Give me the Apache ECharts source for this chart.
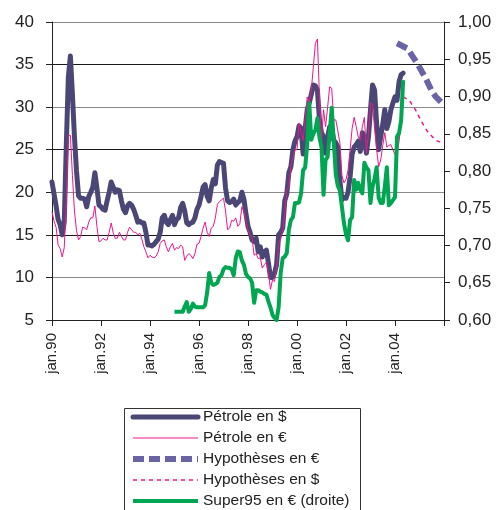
<!DOCTYPE html>
<html>
<head>
<meta charset="utf-8">
<script src="https://cdn.jsdelivr.net/npm/echarts@6/dist/echarts.min.js"></script>
<style>
html,body{margin:0;padding:0;background:#fff;}
#chart{width:496px;height:510px;}
</style>
</head>
<body>
<div id="chart"></div>
<script>
// Monthly categories jan.90 ... jan.06
const monthNames = ['jan','fév','mar','avr','mai','juin','juil','août','sep','oct','nov','déc'];
const years = [1990,1991,1992,1993,1994,1995,1996,1997,1998,1999,2000,2001,2002,2003,2004,2005];
const categories = [];
years.forEach(y => monthNames.forEach(m => categories.push(m + '.' + String(y).slice(2))));
categories.push('jan.06');

const seriesNames = ['Pétrole en $', 'Pétrole en €', 'Hypothèses en €', 'Hypothèses en $', 'Super95 en € (droite)'];

// Pétrole en $ (left axis), from jan.90 (index 0)
const petroleUsdStart = 0;
const petroleUsd = [
  21.2, 19.8, 18.4, 16.8, 16.2, 15.0, 16.5, 25.5, 33.5, 36.0, 31.5, 26.5,
  22.5, 19.6, 19.3, 19.3, 19.2, 18.3, 19.5, 20.0, 20.6, 22.3, 20.5, 18.5,
  18.3, 18.0, 17.9, 19.0, 20.0, 21.2, 20.6, 20.0, 20.3, 20.2, 19.0, 18.0,
  17.6, 18.4, 18.7, 18.5, 18.0, 17.3, 16.5, 16.6, 16.4, 16.4, 15.3, 13.8,
  13.8, 13.7, 13.9, 14.2, 14.5, 15.3, 17.0, 17.3, 16.5, 16.2, 16.8, 17.3,
  16.2, 16.8, 17.0, 18.2, 18.7, 17.8, 16.4, 16.2, 16.4, 16.5, 17.0, 18.0,
  18.5, 19.5, 20.6, 20.9, 19.5, 19.0, 20.5, 21.5, 21.0, 23.2, 23.6, 23.5,
  23.4, 20.5, 19.0, 18.8, 18.9, 19.2, 18.5, 18.8, 19.0, 20.0, 19.2, 17.5,
  16.0, 15.3, 14.4, 14.2, 14.6, 13.0, 13.6, 12.4, 13.0, 13.2, 11.7, 10.0,
  10.0, 10.5, 11.5, 15.0, 15.3, 15.8, 19.0, 19.8, 22.3, 23.0, 25.0, 26.0,
  26.5, 27.8, 27.5, 24.5, 27.5, 29.7, 30.5, 31.5, 32.6, 32.5, 32.0, 28.5,
  27.0, 26.5, 24.6, 26.5, 27.7, 27.5, 26.1, 25.8, 25.3, 21.4, 19.1, 19.4,
  19.3, 20.0, 21.8, 24.5, 25.3, 25.6, 26.0, 24.8, 27.0, 26.5, 24.6, 26.5,
  29.7, 32.6, 32.0, 28.1, 25.0, 26.5, 28.0, 29.7, 27.5, 28.3, 29.7, 30.5,
  31.2, 30.8, 33.0, 33.8, 34.0
];

// Pétrole en € (left axis), from jan.90
const petroleEurStart = 0;
const petroleEur = [
  17.7, 16.6, 15.9, 13.8, 13.4, 12.4, 13.5, 19.0, 26.7, 26.7, 22.0, 17.8,
  15.5, 14.4, 14.8, 15.9, 15.8, 15.6, 16.5, 17.0, 17.0, 18.4, 16.0, 14.2,
  14.3, 14.6, 14.4, 14.4, 15.3, 16.4, 15.2, 14.6, 14.6, 15.3, 14.8, 14.4,
  14.4, 15.3, 15.9, 15.6, 15.3, 15.3, 15.0, 15.2, 14.5, 13.6, 13.0, 12.3,
  12.6, 12.4, 12.3, 12.5, 13.0, 14.0, 14.3, 14.4, 13.6, 13.0, 13.6, 14.0,
  13.2, 13.5, 13.4, 13.8, 13.6, 12.0, 12.5, 12.8, 12.6, 12.2, 12.8, 13.9,
  14.0, 14.8, 15.8, 16.5, 15.3, 14.8, 15.8, 16.0, 17.0, 18.6, 18.9, 19.1,
  19.3, 17.8, 15.6, 15.8, 16.7, 16.6, 17.0, 16.0, 16.3, 18.3, 17.7, 16.7,
  15.5, 15.0, 14.6, 12.6, 12.8, 12.2, 12.3, 11.1, 11.5, 11.8, 10.6, 8.6,
  9.7, 9.5, 11.0, 14.0, 14.5, 15.3, 17.5, 20.3, 20.6, 23.2, 24.1, 25.0,
  25.0, 28.1, 27.0, 26.1, 28.5, 31.2, 30.6, 32.0, 34.7, 37.5, 38.0, 31.2,
  26.1, 29.7, 27.7, 30.0, 32.4, 32.2, 28.5, 28.5, 27.2, 25.8, 22.0, 21.1,
  21.5, 22.6, 25.0, 27.5, 28.8, 27.7, 26.5, 26.1, 27.7, 28.8, 24.6, 27.0,
  30.5, 30.3, 27.5, 25.0, 23.0, 23.8, 25.5, 27.0, 25.3, 25.5, 25.6, 25.0,
  24.4, 24.6, 26.0, 28.1
];

// Hypothèses en € (left axis): month index -> value
const hypEurMonths = [169, 174, 179, 183, 186, 188, 191];
const hypEurValues = [37.5, 36.9, 35.1, 33.4, 31.9, 31.2, 30.5];

// Hypothèses en $ (left axis)
const hypUsdMonths = [172, 175, 178, 181, 184, 188, 191];
const hypUsdValues = [31.2, 30.8, 29.7, 28.3, 27.1, 26.1, 25.8];

// Super95 en € (right axis), from jan.95 (index 60)
const super95Start = 60;
const super95 = [
  0.611, 0.611, 0.611, 0.611, 0.611, 0.618, 0.624, 0.611, 0.615, 0.622, 0.618, 0.617,
  0.617, 0.617, 0.617, 0.620, 0.637, 0.663, 0.650, 0.647, 0.648, 0.650, 0.658, 0.660,
  0.668, 0.671, 0.670, 0.670, 0.668, 0.660, 0.683, 0.692, 0.691, 0.680, 0.674, 0.662,
  0.658, 0.656, 0.650, 0.623, 0.640, 0.640, 0.638, 0.637, 0.635, 0.634, 0.625, 0.617,
  0.607, 0.603, 0.600, 0.617, 0.663, 0.683, 0.685, 0.690, 0.721, 0.734, 0.738, 0.757,
  0.757, 0.758, 0.770, 0.801, 0.805, 0.835, 0.891, 0.842, 0.850, 0.855, 0.871, 0.845,
  0.832, 0.768, 0.815, 0.819, 0.850, 0.885, 0.840, 0.795, 0.780, 0.774, 0.752, 0.730,
  0.715, 0.707, 0.734, 0.738, 0.788, 0.775, 0.784, 0.775, 0.770, 0.811, 0.805, 0.801,
  0.757, 0.779, 0.790, 0.805, 0.764, 0.757, 0.757, 0.779, 0.805, 0.754, 0.757, 0.761,
  0.765, 0.846, 0.851, 0.868, 0.922
];

// Axis ticks
const leftMin = 5, leftMax = 40, leftStep = 5;
const rightMin = 0.60, rightMax = 1.00, rightStep = 0.05;
const xLabelStep = 24;

function padSeries(start, values) {
  const out = new Array(categories.length).fill(null);
  values.forEach((v, i) => { out[start + i] = v; });
  return out;
}
function sparseSeries(months, values) {
  const out = new Array(categories.length).fill(null);
  months.forEach((m, i) => { out[m] = values[i]; });
  return out;
}

const FONT = "'Liberation Sans', Arial, sans-serif";
const hidden = {opacity: 0, borderWidth: 0};
const chart = echarts.init(document.getElementById('chart'), null, {renderer: 'canvas'});
chart.setOption({
  animation: false,
  backgroundColor: '#ffffff',
  grid: {left: 52, right: 52, top: 22, bottom: 190, containLabel: false},
  graphic: [{
    type: 'rect', left: 122, top: 406, z: 0, silent: true,
    shape: {width: 236, height: 130},
    style: {fill: 'none', stroke: '#333', lineWidth: 1}
  }],
  legend: {
    orient: 'vertical',
    left: 130, top: 409, height: 150,
    padding: 0,
    itemWidth: 65, itemHeight: 14, itemGap: 5,
    textStyle: {fontFamily: FONT, fontSize: 15.5, color: '#222'},
    data: [
      {name: seriesNames[0], lineStyle: {width: 5}, itemStyle: hidden},
      {name: seriesNames[1], lineStyle: {width: 1}, itemStyle: hidden},
      {name: seriesNames[2], lineStyle: {width: 6}, itemStyle: hidden},
      {name: seriesNames[3], lineStyle: {width: 1.5}, itemStyle: hidden},
      {name: seriesNames[4], lineStyle: {width: 4}, itemStyle: hidden}
    ]
  },
  xAxis: {
    type: 'category',
    data: categories,
    boundaryGap: false,
    axisLine: {show: true, lineStyle: {color: '#222', width: 1}},
    axisTick: {show: true, length: 6, interval: (i) => i % xLabelStep === 0, lineStyle: {color: '#222'}},
    axisLabel: {
      interval: (i) => i % xLabelStep === 0 && i < categories.length - 1,
      rotate: 90, margin: 13,
      fontFamily: FONT, fontSize: 15, color: '#222'
    },
    splitLine: {show: false}
  },
  yAxis: [
    {
      type: 'value', min: leftMin, max: leftMax, interval: leftStep,
      position: 'left',
      axisLine: {show: true, lineStyle: {color: '#222', width: 1}},
      axisTick: {show: true, length: 6, lineStyle: {color: '#222'}},
      axisLabel: {margin: 18, fontFamily: FONT, fontSize: 17, color: '#222'},
      splitLine: {show: true, lineStyle: {color: ['#1a1a1a', '#8a8a8a'], width: 1.2}}
    },
    {
      type: 'value', min: rightMin, max: rightMax, interval: rightStep,
      position: 'right',
      axisLine: {show: true, lineStyle: {color: '#222', width: 1}},
      axisTick: {show: true, length: 6, lineStyle: {color: '#222'}},
      axisLabel: {margin: 14, fontFamily: FONT, fontSize: 17, color: '#222',
        formatter: (v) => v.toFixed(2).replace('.', ',')},
      splitLine: {show: false}
    }
  ],
  series: [
    {
      name: seriesNames[0], type: 'line', yAxisIndex: 0, symbol: 'none',
      data: padSeries(petroleUsdStart, petroleUsd),
      lineStyle: {color: '#4a4776', width: 5, join: 'round', cap: 'round'},
      itemStyle: {color: '#4a4776'}
    },
    {
      name: seriesNames[1], type: 'line', yAxisIndex: 0, symbol: 'none',
      data: padSeries(petroleEurStart, petroleEur),
      lineStyle: {color: '#ec168c', width: 1},
      itemStyle: {color: '#ec168c'}
    },
    {
      name: seriesNames[2], type: 'line', yAxisIndex: 0, symbol: 'none', connectNulls: true,
      data: sparseSeries(hypEurMonths, hypEurValues),
      lineStyle: {color: '#6a63a6', width: 6, type: [11, 5]},
      itemStyle: {color: '#6a63a6'}
    },
    {
      name: seriesNames[3], type: 'line', yAxisIndex: 0, symbol: 'none', connectNulls: true,
      data: sparseSeries(hypUsdMonths, hypUsdValues),
      lineStyle: {color: '#ec168c', width: 1.5, type: [4, 4]},
      itemStyle: {color: '#ec168c'}
    },
    {
      name: seriesNames[4], type: 'line', yAxisIndex: 1, symbol: 'none',
      data: padSeries(super95Start, super95),
      lineStyle: {color: '#00a651', width: 4, join: 'round'},
      itemStyle: {color: '#00a651'}
    }
  ]
});
</script>
</body>
</html>
